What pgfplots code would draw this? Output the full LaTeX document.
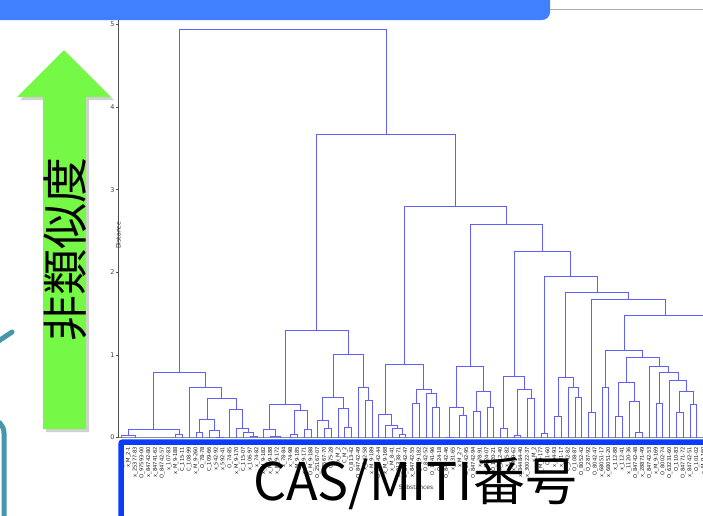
\documentclass[border=0pt]{standalone}
\usepackage{pgfplots}
\pgfplotsset{compat=1.18}
\usepackage{fontspec}
\setmainfont{DejaVu Sans}
\newfontfamily\jp{Noto Sans CJK JP}
\definecolor{hdr}{RGB}{64,128,255}
\definecolor{grn}{RGB}{118,248,70}
\definecolor{tealx}{RGB}{70,150,172}
\definecolor{boxb}{RGB}{10,60,250}
\definecolor{dend}{RGB}{95,95,250}
\begin{document}
\begin{tikzpicture}
\useasboundingbox (0,0) rectangle (703pt,-515pt);
\clip (0,0) rectangle (703pt,-515pt);
\fill[white] (0,0) rectangle (703pt,-515pt);
% teal decorations at left
\draw[tealx, line width=5pt, line cap=round] (-3pt,-342pt) -- (12pt,-332pt);
\draw[tealx, line width=5pt, rounded corners=14pt] (-30pt,-419pt) -- (4pt,-419pt) -- (4pt,-560pt);
% arrow shadow and arrow
\fill[black, opacity=0.18] (46pt,-432pt) -- (46pt,-100pt) -- (20pt,-100pt) -- (67pt,-53pt) -- (114pt,-100pt) -- (89pt,-100pt) -- (89pt,-432pt) -- cycle;
\fill[grn] (43pt,-429pt) -- (43pt,-97pt) -- (17pt,-97pt) -- (64pt,-50pt) -- (111pt,-97pt) -- (86pt,-97pt) -- (86pt,-429pt) -- cycle;
\node[rotate=90, inner sep=0pt, font=\jp\fontsize{46}{46}\selectfont] at (65pt,-249pt) {非類似度};
% dendrogram
\begin{axis}[
  at={(118.3pt,-437.5pt)}, anchor=south west,
  scale only axis, width=595.4pt, height=429.5pt,
  xmin=-0.5, xmax=87.5, ymin=0, ymax=5.2,
  axis x line*=bottom, axis y line*=left,
  x axis line style={draw={rgb,255:red,140;green,140;blue,140}, line width=1.2pt},
  y axis line style={draw={rgb,255:red,80;green,80;blue,80}, line width=0.9pt},
  tick align=outside, major tick length=2.5pt,
  ytick={0,1,2,3,4,5},
  y tick style={draw={rgb,255:red,80;green,80;blue,80}, line width=0.6pt},
  yticklabel style={font=\fontsize{6.5}{7}\selectfont, text=black!75, inner sep=1pt},
  /pgf/number format/assume math mode=true,
  xtick={0,...,87},
  x tick style={draw=none},
  xticklabel shift=6.5pt,
  xticklabel style={rotate=90, anchor=east, font=\fontsize{5.2}{5.2}\selectfont, inner sep=0pt, text=black!90},
  xticklabels={O\_107-01,x\_M\_2-1,x\_25377-83,O\_97593-00,x\_84742-80,x\_84741-62,O\_84742-57,x\_107-83,x\_M\_9-188,C\_115-11,C\_108-99,x\_M\_9-260,O\_78-78,C\_109-66,x\_542-92,x\_592-41,O\_74-85,x\_M\_9-170,C\_115-07,x\_106-97,x\_74-82,x\_M\_9-182,x\_M\_9-188,x\_M\_9-172,x\_78-84,x\_74-98,x\_M\_9-185,x\_M\_9-171,O\_M\_9-188,O\_25167-07,x\_93567-70,O\_75-28,x\_M\_2,C\_M\_2,O\_813-42,O\_84742-49,x\_842-58,x\_M\_9-189,O\_84742-44,x\_M\_9-168,x\_M\_8-41,x\_31338-71,O\_84742-47,x\_84742-55,x\_M\_9-182,O\_842-52,O\_1041-96,O\_124-18,O\_84742-46,x\_631-65,x\_M\_2-7,O\_2542-95,O\_84742-94,x\_78-91,O\_1624-07,O\_120-21,x\_112-40,x\_75-82,x\_M\_9-62,x\_34484-40,x\_30022-37,x\_M\_2,x\_M\_9-177,O\_1-60,x\_94-93,x\_91-17,C\_342-82,O\_108-87,O\_8052-42,O\_287-92,O\_8042-47,x\_68051-17,x\_68051-20,x\_112-88,x\_112-41,x\_1120-36,O\_84742-48,x\_28871-49,O\_84742-53,x\_M\_9-169,O\_8002-74,O\_63231-60,O\_110-83,O\_84771-72,x\_84742-51,O\_101-02,x\_M\_9-160,O\_84742-60},
  xlabel={Substances}, ylabel={Distance},
  xlabel style={at={(axis description cs:0.5,0)}, anchor=center, yshift=-49.5pt, font=\fontsize{6}{6}\selectfont, text=black!80},
  ylabel style={at={(axis description cs:0,0.5)}, anchor=center, xshift=-12.6pt, font=\fontsize{6.2}{6.2}\selectfont, text=black!80},
]
\addplot[dend, line width=1pt, mark=none, unbounded coords=jump] table[row sep=\\] {
x y \\
0 0 \\ 0 0.02 \\ 2 0.02 \\ 2 0 \\ nan nan \\
8 0 \\ 8 0.04 \\ 9 0.04 \\ 9 0 \\ nan nan \\
0.98 0.02 \\ 0.98 0.10 \\ 8.5 0.10 \\ 8.5 0.04 \\ nan nan \\
11 0 \\ 11 0.06 \\ 12 0.06 \\ 12 0 \\ nan nan \\
14 0 \\ 14 0.005 \\ 15 0.005 \\ 15 0 \\ nan nan \\
13 0 \\ 13 0.09 \\ 14.5 0.09 \\ 14.5 0.005 \\ nan nan \\
11.5 0.06 \\ 11.5 0.22 \\ 13.75 0.22 \\ 13.75 0.09 \\ nan nan \\
19 0 \\ 19 0.015 \\ 20 0.015 \\ 20 0 \\ nan nan \\
18 0 \\ 18 0.06 \\ 19.5 0.06 \\ 19.5 0.015 \\ nan nan \\
17 0 \\ 17 0.11 \\ 18.75 0.11 \\ 18.75 0.06 \\ nan nan \\
16 0 \\ 16 0.34 \\ 17.875 0.34 \\ 17.875 0.11 \\ nan nan \\
12.625 0.22 \\ 12.625 0.475 \\ 16.94 0.475 \\ 16.94 0.34 \\ nan nan \\
10 0 \\ 10 0.60 \\ 14.78 0.60 \\ 14.78 0.475 \\ nan nan \\
4.74 0.10 \\ 4.74 0.785 \\ 12.39 0.785 \\ 12.39 0.60 \\ nan nan \\
22 0 \\ 22 0.015 \\ 23.5 0.015 \\ 23.5 0 \\ nan nan \\
21 0 \\ 21 0.10 \\ 22.75 0.10 \\ 22.75 0.015 \\ nan nan \\
25 0 \\ 25 0.04 \\ 26 0.04 \\ 26 0 \\ nan nan \\
27 0 \\ 27 0.10 \\ 28 0.10 \\ 28 0 \\ nan nan \\
25.5 0.04 \\ 25.5 0.33 \\ 27.5 0.33 \\ 27.5 0.10 \\ nan nan \\
21.875 0.10 \\ 21.875 0.40 \\ 26.5 0.40 \\ 26.5 0.33 \\ nan nan \\
30 0 \\ 30 0.11 \\ 31 0.11 \\ 31 0 \\ nan nan \\
29 0 \\ 29 0.20 \\ 30.5 0.20 \\ 30.5 0.11 \\ nan nan \\
33 0 \\ 33 0.12 \\ 34 0.12 \\ 34 0 \\ nan nan \\
32 0 \\ 32 0.35 \\ 33.5 0.35 \\ 33.5 0.12 \\ nan nan \\
29.75 0.20 \\ 29.75 0.487 \\ 32.75 0.487 \\ 32.75 0.35 \\ nan nan \\
36 0 \\ 36 0.45 \\ 37 0.45 \\ 37 0 \\ nan nan \\
35 0 \\ 35 0.60 \\ 36.5 0.60 \\ 36.5 0.45 \\ nan nan \\
31.25 0.487 \\ 31.25 1.00 \\ 35.75 1.00 \\ 35.75 0.60 \\ nan nan \\
24.19 0.40 \\ 24.19 1.30 \\ 33.5 1.30 \\ 33.5 1.00 \\ nan nan \\
41 0 \\ 41 0.04 \\ 42 0.04 \\ 42 0 \\ nan nan \\
40 0 \\ 40 0.11 \\ 41.5 0.11 \\ 41.5 0.04 \\ nan nan \\
39 0 \\ 39 0.15 \\ 40.75 0.15 \\ 40.75 0.11 \\ nan nan \\
38 0 \\ 38 0.28 \\ 39.875 0.28 \\ 39.875 0.15 \\ nan nan \\
43 0 \\ 43 0.415 \\ 44 0.415 \\ 44 0 \\ nan nan \\
46 0 \\ 46 0.36 \\ 47 0.36 \\ 47 0 \\ nan nan \\
45 0 \\ 45 0.535 \\ 46.5 0.535 \\ 46.5 0.36 \\ nan nan \\
43.5 0.415 \\ 43.5 0.585 \\ 45.75 0.585 \\ 45.75 0.535 \\ nan nan \\
38.94 0.28 \\ 38.94 0.887 \\ 44.625 0.887 \\ 44.625 0.585 \\ nan nan \\
48 0 \\ 48 0.005 \\ 49 0.005 \\ 49 0 \\ nan nan \\
50 0 \\ 50 0.265 \\ 51 0.265 \\ 51 0 \\ nan nan \\
48.5 0.005 \\ 48.5 0.36 \\ 50.5 0.36 \\ 50.5 0.265 \\ nan nan \\
52 0 \\ 52 0.32 \\ 53 0.32 \\ 53 0 \\ nan nan \\
54 0 \\ 54 0.36 \\ 55 0.36 \\ 55 0 \\ nan nan \\
52.5 0.32 \\ 52.5 0.555 \\ 54.5 0.555 \\ 54.5 0.36 \\ nan nan \\
49.5 0.36 \\ 49.5 0.86 \\ 53.5 0.86 \\ 53.5 0.555 \\ nan nan \\
56 0 \\ 56 0.107 \\ 57 0.107 \\ 57 0 \\ nan nan \\
58 0 \\ 58 0.03 \\ 59 0.03 \\ 59 0 \\ nan nan \\
60 0 \\ 60 0.475 \\ 61 0.475 \\ 61 0 \\ nan nan \\
58.5 0.03 \\ 58.5 0.58 \\ 60.5 0.58 \\ 60.5 0.475 \\ nan nan \\
56.5 0.107 \\ 56.5 0.737 \\ 59.5 0.737 \\ 59.5 0.58 \\ nan nan \\
62 0 \\ 62 0.05 \\ 63 0.05 \\ 63 0 \\ nan nan \\
64 0 \\ 64 0.26 \\ 65 0.26 \\ 65 0 \\ nan nan \\
67 0 \\ 67 0.48 \\ 68 0.48 \\ 68 0 \\ nan nan \\
66 0 \\ 66 0.60 \\ 67.5 0.60 \\ 67.5 0.48 \\ nan nan \\
64.5 0.26 \\ 64.5 0.73 \\ 66.75 0.73 \\ 66.75 0.60 \\ nan nan \\
69 0 \\ 69 0.305 \\ 70 0.305 \\ 70 0 \\ nan nan \\
71 0 \\ 71 0.60 \\ 72 0.60 \\ 72 0 \\ nan nan \\
73 0 \\ 73 0.257 \\ 74 0.257 \\ 74 0 \\ nan nan \\
76 0 \\ 76 0.063 \\ 77 0.063 \\ 77 0 \\ nan nan \\
75 0 \\ 75 0.44 \\ 76.5 0.44 \\ 76.5 0.063 \\ nan nan \\
73.5 0.257 \\ 73.5 0.67 \\ 75.75 0.67 \\ 75.75 0.44 \\ nan nan \\
79 0 \\ 79 0.406 \\ 80 0.406 \\ 80 0 \\ nan nan \\
82 0 \\ 82 0.30 \\ 83 0.30 \\ 83 0 \\ nan nan \\
84 0 \\ 84 0.40 \\ 85 0.40 \\ 85 0 \\ nan nan \\
82.5 0.30 \\ 82.5 0.555 \\ 84.5 0.555 \\ 84.5 0.40 \\ nan nan \\
81 0 \\ 81 0.685 \\ 83.5 0.685 \\ 83.5 0.555 \\ nan nan \\
79.5 0.406 \\ 79.5 0.79 \\ 82.25 0.79 \\ 82.25 0.685 \\ nan nan \\
78 0 \\ 78 0.863 \\ 80.875 0.863 \\ 80.875 0.79 \\ nan nan \\
74.625 0.67 \\ 74.625 0.967 \\ 79.44 0.967 \\ 79.44 0.863 \\ nan nan \\
71.5 0.60 \\ 71.5 1.05 \\ 77.03 1.05 \\ 77.03 0.967 \\ nan nan \\
86 0 \\ 86 0.5 \\ 87 0.5 \\ 87 0 \\ nan nan \\
74.27 1.05 \\ 74.27 1.476 \\ 86.5 1.476 \\ 86.5 0.5 \\ nan nan \\
69.5 0.305 \\ 69.5 1.675 \\ 80.38 1.675 \\ 80.38 1.476 \\ nan nan \\
65.625 0.73 \\ 65.625 1.755 \\ 74.94 1.755 \\ 74.94 1.675 \\ nan nan \\
62.5 0.05 \\ 62.5 1.945 \\ 70.28 1.945 \\ 70.28 1.755 \\ nan nan \\
58 0.737 \\ 58 2.25 \\ 66.39 2.25 \\ 66.39 1.945 \\ nan nan \\
51.5 0.86 \\ 51.5 2.58 \\ 62.2 2.58 \\ 62.2 2.25 \\ nan nan \\
41.78 0.887 \\ 41.78 2.80 \\ 56.85 2.80 \\ 56.85 2.58 \\ nan nan \\
28.84 1.30 \\ 28.84 3.67 \\ 49.32 3.67 \\ 49.32 2.80 \\ nan nan \\
8.565 0.785 \\ 8.565 4.94 \\ 39.08 4.94 \\ 39.08 3.67 \\
};
\end{axis}
% blue frame round the labels
\draw[boxb, line width=5.5pt, rounded corners=2pt] (121pt,-580pt) -- (121pt,-442pt) -- (760pt,-442pt);
% header bar
\fill[hdr, rounded corners=8pt] (-20pt,20pt) rectangle (550pt,-20pt);
\draw[gray!65, line width=1.5pt] (550pt,-9.5pt) -- (710pt,-9.5pt);
% big caption
\node[anchor=base west, inner sep=0pt, font=\jp\fontsize{52}{52}\selectfont] at (253pt,-500pt) {CAS/MITI番号};
\end{tikzpicture}
\end{document}
